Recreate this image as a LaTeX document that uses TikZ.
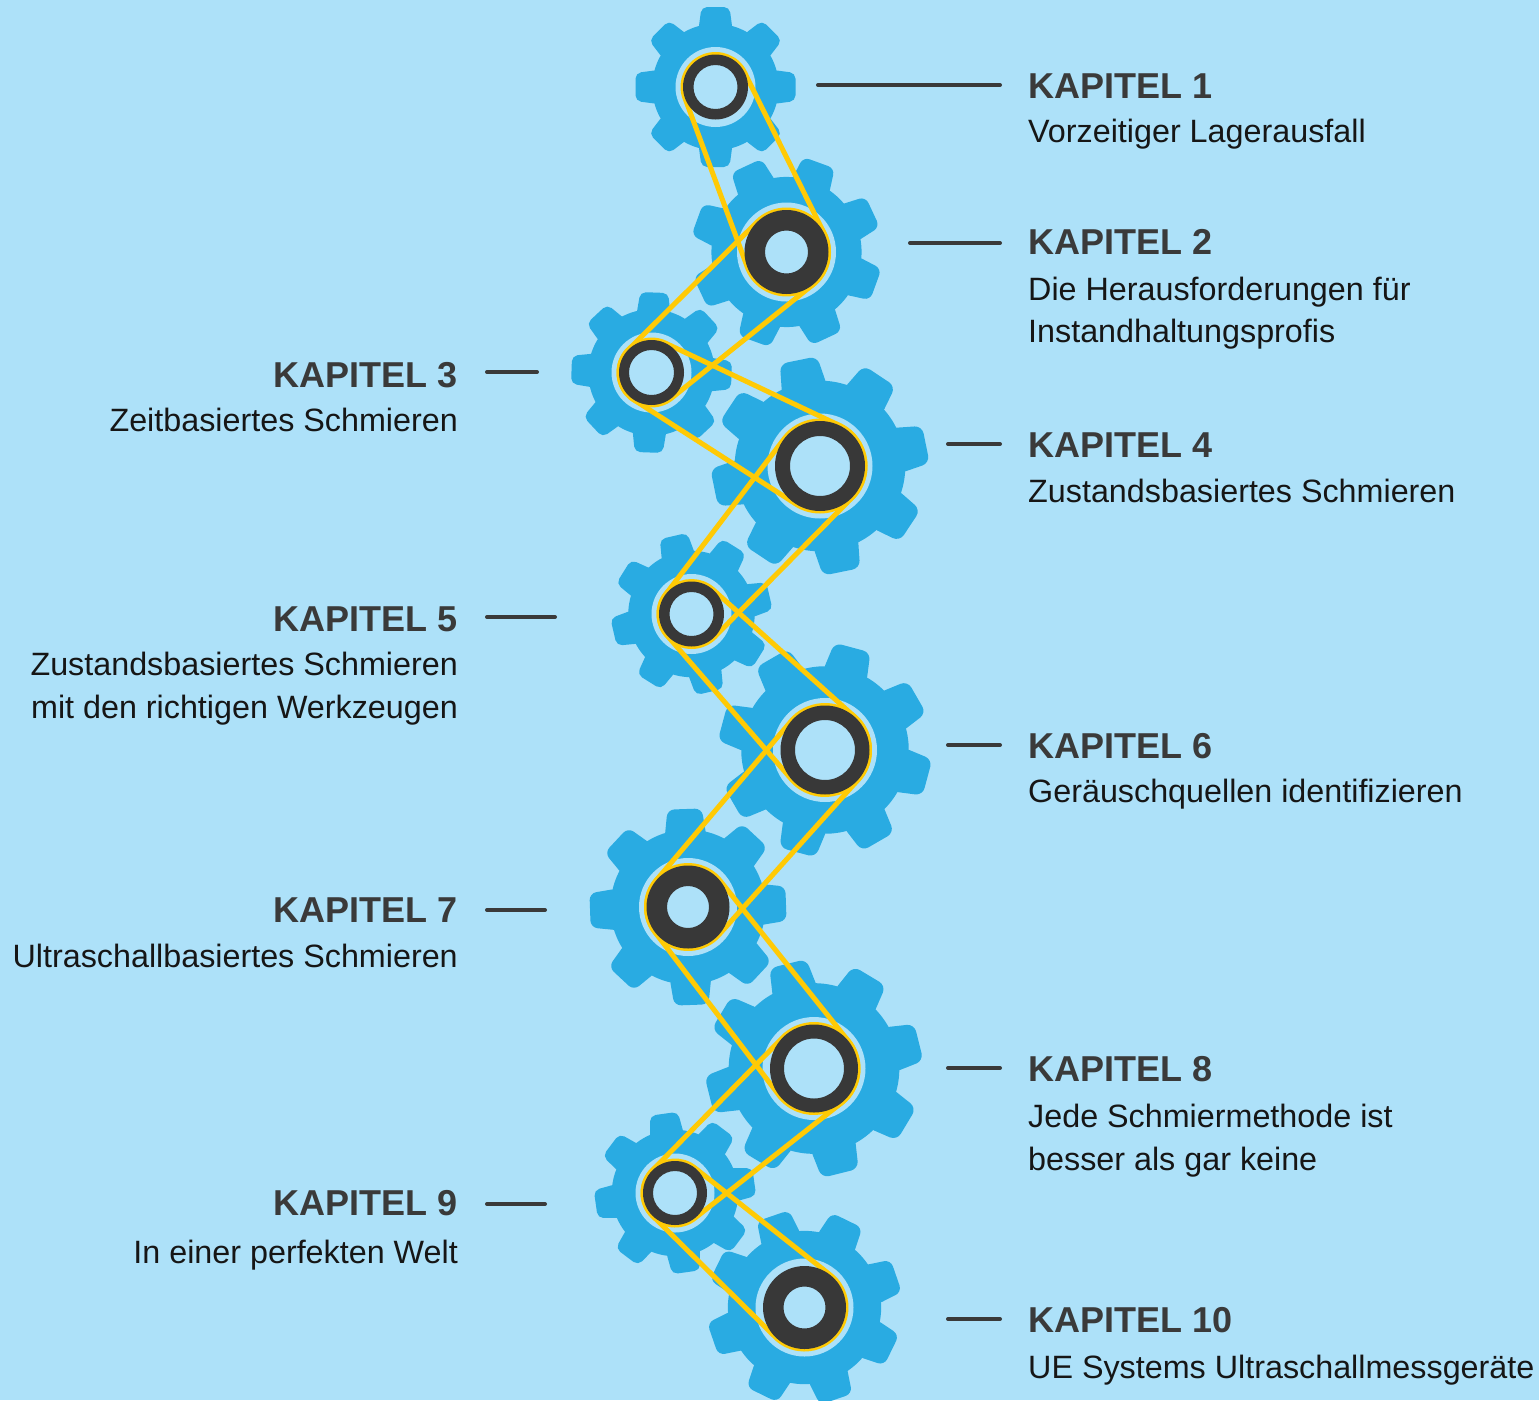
\documentclass[tikz,border=0pt]{standalone}
\usepackage{fontspec}
\setmainfont{Liberation Sans}
\usetikzlibrary{calc}
\definecolor{bg}{HTML}{ADE1F9}
\definecolor{gearblue}{HTML}{29ABE2}
\definecolor{ringdark}{HTML}{383838}
\definecolor{beltyellow}{HTML}{FFCA05}
\definecolor{titlegray}{HTML}{3A3A3A}
\definecolor{subblack}{HTML}{161616}

% closed belt (outer tangents plus wrap arcs) around two hub rings
\newcommand\beltloop[4]{%
  \draw[belt] let \p1=(#1), \p2=(#3),
    \n1={atan2(\y2-\y1,\x2-\x1)},
    \n2={acos((#2-#4)/veclen(\x2-\x1,\y2-\y1))} in
    ($(#1)+(\n1+\n2:#2)$) -- ($(#3)+(\n1+\n2:#4)$)
    arc[start angle=\n1+\n2, end angle=\n1-\n2, radius=#4]
    -- ($(#1)+(\n1-\n2:#2)$)
    arc[start angle=\n1-\n2, end angle=\n1+\n2-360, radius=#2] -- cycle;}

\begin{document}
\begin{tikzpicture}[x=1pt,y=1pt,
  title/.style={font=\fontsize{36}{43}\selectfont\bfseries, text=titlegray, inner sep=0pt},
  sub/.style={font=\fontsize{32.3}{43}\selectfont, text=subblack, inner sep=0pt},
  leader/.style={draw=titlegray, line width=4, line cap=round},
  belt/.style={draw=beltyellow, line width=5, line join=round}]

\fill[bg] (0,0) rectangle (1539,-1400);
\useasboundingbox (0,0) rectangle (1539,-1400);

% gear centres
\coordinate (g1) at (715.5,-87);
\coordinate (g2) at (786.5,-252);
\coordinate (g3) at (651.5,-372.5);
\coordinate (g4) at (820,-466);
\coordinate (g5) at (691.5,-614);
\coordinate (g6) at (825,-750);
\coordinate (g7) at (688,-907);
\coordinate (g8) at (814,-1068.5);
\coordinate (g9) at (675,-1193);
\coordinate (g10) at (804.5,-1307.5);

% gear bodies with eight teeth
\foreach \g/\R/\rot in {g1/80/0, g2/95/25, g3/80/-2, g4/108/11.5, g5/80/13,
                        g6/106/30, g7/98/2, g8/108/14, g9/80/8, g10/97/19} {
  \begin{scope}[shift={(\g)}, rotate=\rot]
    \fill[gearblue] (0,0) circle[radius=0.79*\R];
    \foreach \k in {0,...,7} {
      \fill[gearblue, rounded corners=0.07*\R, rotate=45*\k]
        (0.7*\R,-0.215*\R) -- (\R,-0.175*\R) -- (\R,0.175*\R) -- (0.7*\R,0.215*\R) -- cycle;
    }
  \end{scope}
}

% light hub openings
\foreach \g/\rd in {g1/32.5, g2/42, g3/32.5, g4/45, g5/32.5, g6/44.5, g7/41.5, g8/44, g9/32, g10/41.5}
  \fill[bg] (\g) circle[radius=\rd+7.5];

% belts
\beltloop{g1}{32.5}{g2}{42}
\beltloop{g2}{42}{g3}{32.5}
\beltloop{g3}{32.5}{g4}{45}
\beltloop{g4}{45}{g5}{32.5}
\beltloop{g5}{32.5}{g6}{44.5}
\beltloop{g6}{44.5}{g7}{41.5}
\beltloop{g7}{41.5}{g8}{44}
\beltloop{g8}{44}{g9}{32}
\beltloop{g9}{32}{g10}{41.5}

% dark pulley rings
\foreach \g/\rd/\ri in {g1/32.5/22, g2/42/21.5, g3/32.5/22.5, g4/45/30, g5/32.5/22,
                        g6/44.5/30, g7/41.5/21, g8/44/30, g9/32/22, g10/41.5/21}
  \fill[ringdark, even odd rule] (\g) circle[radius=\rd] (\g) circle[radius=\ri];

% leader lines
\coordinate (a1) at (818,-85);   \coordinate (b1) at (1000,-85);
\coordinate (a2) at (910,-243);  \coordinate (b2) at (1000,-243);
\coordinate (a3) at (487,-372);  \coordinate (b3) at (537,-372);
\coordinate (a4) at (948,-444);  \coordinate (b4) at (1000,-444);
\coordinate (a5) at (487,-617);  \coordinate (b5) at (555,-617);
\coordinate (a6) at (948,-745);  \coordinate (b6) at (1000,-745);
\coordinate (a7) at (487,-910);  \coordinate (b7) at (545,-910);
\coordinate (a8) at (948,-1068); \coordinate (b8) at (1000,-1068);
\coordinate (a9) at (487,-1204); \coordinate (b9) at (545,-1204);
\coordinate (a10) at (948,-1319); \coordinate (b10) at (1000,-1319);
\foreach \i in {1,...,10} \draw[leader] (a\i) -- (b\i);

% right-hand labels
\node[title, anchor=base west] (t1) at (1028,-98.5) {KAPITEL 1};
\node[sub, anchor=base west] (s1) at (1028,-142.5) {Vorzeitiger Lagerausfall};
\node[title, anchor=base west] (t2) at (1028,-254.5) {KAPITEL 2};
\node[sub, anchor=base west] (s2a) at (1028,-300.5) {Die Herausforderungen für};
\node[sub, anchor=base west] (s2b) at (1028,-342.5) {Instandhaltungsprofis};
\node[title, anchor=base west] (t4) at (1028,-457.5) {KAPITEL 4};
\node[sub, anchor=base west] (s4) at (1028,-502.5) {Zustandsbasiertes Schmieren};
\node[title, anchor=base west] (t6) at (1028,-758.5) {KAPITEL 6};
\node[sub, anchor=base west] (s6) at (1028,-802) {Geräuschquellen identifizieren};
\node[title, anchor=base west] (t8) at (1028,-1081.5) {KAPITEL 8};
\node[sub, anchor=base west] (s8a) at (1028,-1127) {Jede Schmiermethode ist};
\node[sub, anchor=base west] (s8b) at (1028,-1170) {besser als gar keine};
\node[title, anchor=base west] (t10) at (1028,-1332.5) {KAPITEL 10};
\node[sub, anchor=base west] (s10) at (1028,-1378.5) {UE Systems Ultraschallmessgeräte};

% left-hand labels
\node[title, anchor=base east] (t3) at (458,-387) {KAPITEL 3};
\node[sub, anchor=base east] (s3) at (458,-431) {Zeitbasiertes Schmieren};
\node[title, anchor=base east] (t5) at (458,-631) {KAPITEL 5};
\node[sub, anchor=base east] (s5a) at (458,-675) {Zustandsbasiertes Schmieren};
\node[sub, anchor=base east] (s5b) at (458,-718) {mit den richtigen Werkzeugen};
\node[title, anchor=base east] (t7) at (458,-922) {KAPITEL 7};
\node[sub, anchor=base east] (s7) at (458,-967) {Ultraschallbasiertes Schmieren};
\node[title, anchor=base east] (t9) at (458,-1215) {KAPITEL 9};
\node[sub, anchor=base east] (s9) at (458,-1263) {In einer perfekten Welt};
\end{tikzpicture}
\end{document}
